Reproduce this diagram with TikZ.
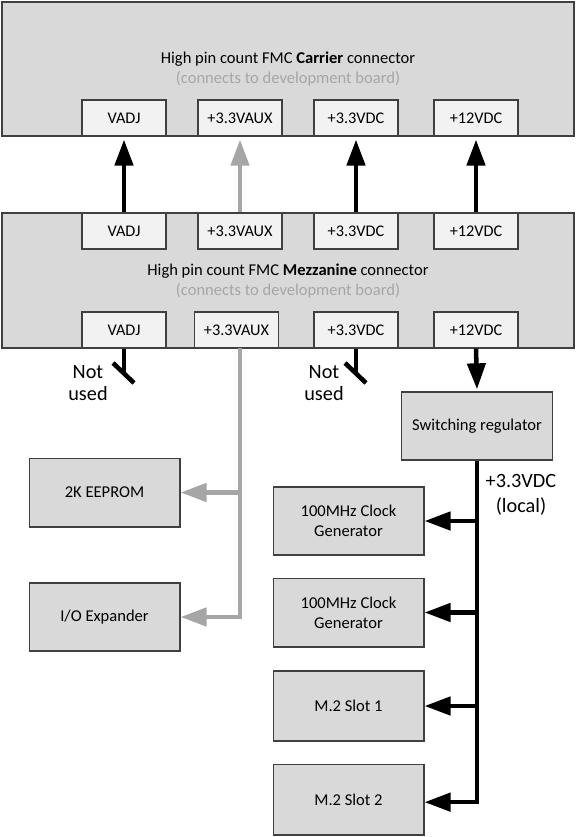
\documentclass[tikz,border=0pt]{standalone}
\usepackage{fontspec}
\setmainfont{Carlito}
\usetikzlibrary{arrows.meta}
\definecolor{boxfill}{HTML}{D9D9D9}
\definecolor{pinfill}{HTML}{F2F2F2}
\definecolor{edgecol}{HTML}{404040}
\definecolor{auxcol}{HTML}{A6A6A6}
\begin{document}
\begin{tikzpicture}[x=0.75pt,y=-0.75pt,
  blk/.style={draw=edgecol, line width=1pt, fill=boxfill, inner sep=0pt, align=center,
              font=\fontsize{12.4}{15}\selectfont},
  bigblk/.style={blk, minimum width=429pt, minimum height=101pt},
  midblk/.style={blk, minimum width=113pt, minimum height=51.5pt},
  pinbox/.style={draw=edgecol, line width=1pt, fill=pinfill, minimum width=63pt,
                 minimum height=27pt, inner sep=0pt, font=\fontsize{12.2}{14}\selectfont},
  pwr/.style={line width=3.4pt, -{Triangle[length=19.5pt,width=13.5pt]}},
  auxpwr/.style={pwr, draw=auxcol},
  stub/.style={line width=3.4pt},
  lbl/.style={align=center, font=\fontsize{15.2}{16.5}\selectfont, inner sep=0pt},
  maintext/.style={align=center, font=\fontsize{12.4}{15}\selectfont, inner sep=0pt}
]
\useasboundingbox (0,0) rectangle (575,837);

% Carrier connector
\node[bigblk, minimum height=100.5pt] (carrier) at (288,69) {};
\node[maintext] (ctext) at (288,69) {High pin count FMC \textbf{Carrier} connector\\
  \textcolor{auxcol}{(connects to development board)}};
\node[pinbox] (cvadj) at (124,118) {VADJ};
\node[pinbox] (caux)  at (240,118) {+3.3VAUX};
\node[pinbox] (cvdc)  at (356,118) {+3.3VDC};
\node[pinbox] (c12)   at (476,118) {+12VDC};

% Mezzanine connector
\node[bigblk] (mezz) at (288,280.5) {};
\node[maintext] (mtext) at (288,281) {High pin count FMC \textbf{Mezzanine} connector\\
  \textcolor{auxcol}{(connects to development board)}};
\node[pinbox] (mvadjt) at (124,231) {VADJ};
\node[pinbox] (mauxt)  at (240,231) {+3.3VAUX};
\node[pinbox] (mvdct)  at (356,231) {+3.3VDC};
\node[pinbox] (m12t)   at (476,231) {+12VDC};
\node[pinbox] (mvadjb) at (124,330) {VADJ};
\node[pinbox] (mauxb)  at (236.5,330) {+3.3VAUX};
\node[pinbox] (mvdcb)  at (356,330) {+3.3VDC};
\node[pinbox] (m12b)   at (476,330) {+12VDC};

% up arrows
\draw[pwr] (mvadjt.north) -- ([yshift=-2.2pt]cvadj.south);
\draw[auxpwr] (mauxt.north) -- ([yshift=-2.2pt]caux.south);
\draw[pwr] (mvdct.north) -- ([yshift=-2.2pt]cvdc.south);
\draw[pwr] (m12t.north) -- ([yshift=-2.2pt]c12.south);

% Not used stubs
\coordinate (nu1a) at (113,363);
\coordinate (nu1b) at (134,383);
\coordinate (nu1c) at (124,374);
\draw[stub] (mvadjb.south) -- (nu1c);
\draw[stub] (nu1a) -- (nu1b);
\node[lbl] (nu1) at (88,383) {Not\\used};
\coordinate (nu2a) at (345,363);
\coordinate (nu2b) at (366,383);
\coordinate (nu2c) at (356,374);
\draw[stub] (mvdcb.south) -- (nu2c);
\draw[stub] (nu2a) -- (nu2b);
\node[lbl] (nu2) at (324,383) {Not\\used};

% Switching regulator
\node[midblk, minimum height=51pt] (sw) at (477,426) {Switching regulator};
\draw[pwr] (m12b.south) -- ([yshift=1.5pt]sw.north);

% left blocks
\node[midblk] (eeprom) at (104.5,492.5) {2K EEPROM};
\node[midblk, minimum height=51pt] (ioexp) at (104.5,617) {I/O Expander};
\coordinate (auxtop) at (240,348);
\draw[auxpwr] (auxtop) |- (ioexp.east);
\draw[auxpwr] (auxtop |- eeprom.east) -- (eeprom.east);

% right blocks
\node[midblk, minimum height=51pt] (clk1) at (348.5,521) {100MHz Clock\\Generator};
\node[midblk] (clk2) at (348.5,612.5) {100MHz Clock\\Generator};
\node[midblk, minimum height=52.5pt] (m21) at (348.5,706) {M.2 Slot 1};
\node[midblk, minimum height=53pt] (m22) at (348.5,799.5) {M.2 Slot 2};
\node[lbl, font=\fontsize{15.2}{18.5}\selectfont] (loc) at (521,495) {+3.3VDC\\(local)};

\draw[pwr] (sw.south) |- ([yshift=-2pt]m22.east);
\draw[pwr] (sw.south |- clk1.east) -- (clk1.east);
\draw[pwr] (sw.south |- clk2.east) -- (clk2.east);
\draw[pwr] (sw.south |- m21.east) -- (m21.east);
\end{tikzpicture}
\end{document}
